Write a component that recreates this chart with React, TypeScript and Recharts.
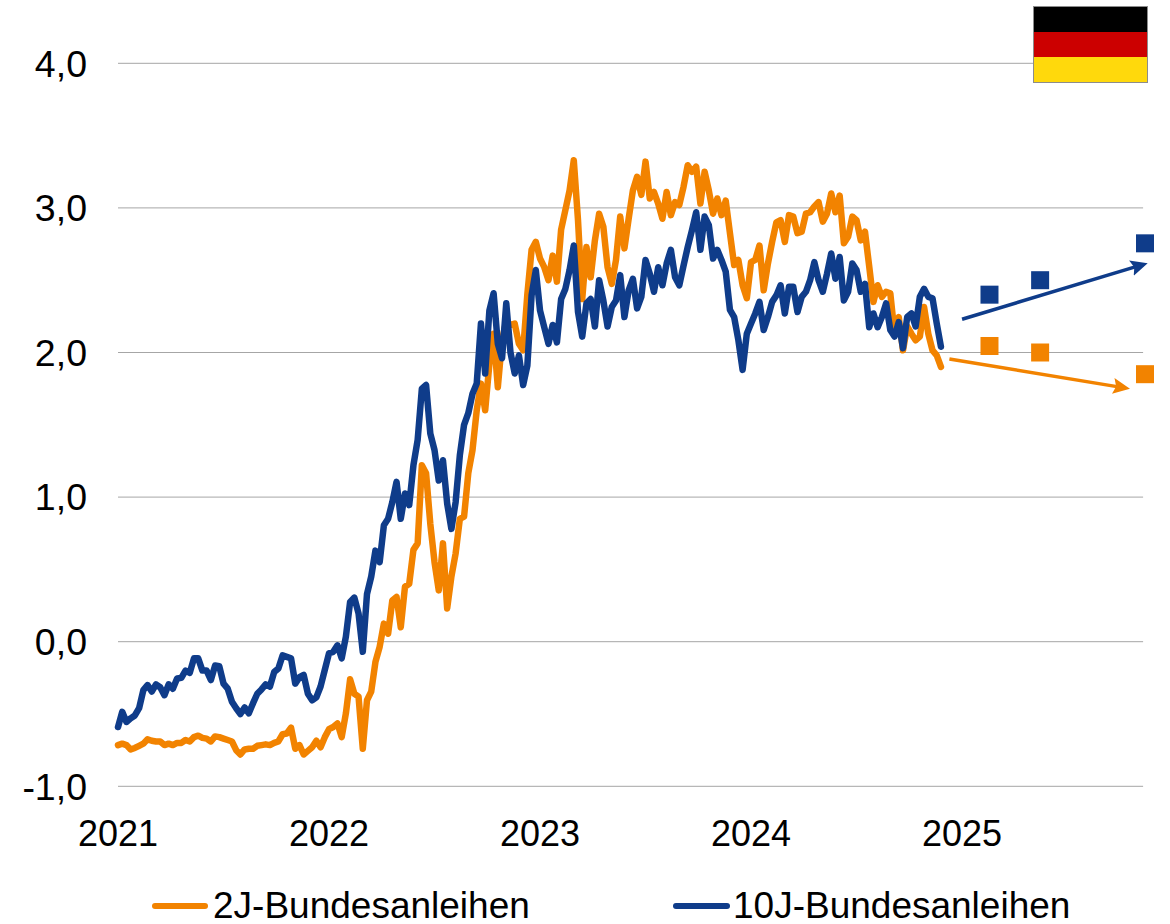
import React from 'react';
import { ComposedChart, Line, Scatter, XAxis, YAxis, ReferenceLine, Legend } from 'recharts';

const START_YEAR = 2021;
const STEP = 0.02;
const yearTicks = [2021, 2022, 2023, 2024, 2025];
const valueTicks = [-1, 0, 1, 2, 3, 4];
const seriesNames = ['2J-Bundesanleihen', '10J-Bundesanleihen'];
const ORANGE = '#F28300';
const BLUE = '#0F3C8A';

const twoYear = [
  -0.715,-0.705,-0.715,-0.745,-0.735,-0.72,-0.705,-0.675,-0.685,-0.69,
  -0.69,-0.715,-0.705,-0.715,-0.70,-0.70,-0.68,-0.69,-0.66,-0.65,
  -0.665,-0.67,-0.69,-0.655,-0.66,-0.67,-0.68,-0.69,-0.75,-0.78,
  -0.745,-0.74,-0.74,-0.72,-0.715,-0.71,-0.715,-0.70,-0.69,-0.64,
  -0.635,-0.595,-0.74,-0.715,-0.78,-0.755,-0.73,-0.685,-0.73,-0.66,
  -0.605,-0.59,-0.565,-0.66,-0.495,-0.26,-0.36,-0.38,-0.74,-0.405,
  -0.345,-0.14,-0.035,0.125,0.055,0.285,0.31,0.1,0.38,0.40,
  0.635,0.68,1.22,1.165,0.815,0.55,0.355,0.68,0.23,0.45,
  0.61,0.85,0.865,1.165,1.325,1.60,1.785,1.6,1.92,2.13,
  1.76,2.085,2.22,2.19,2.20,2.06,2.015,2.405,2.71,2.765,
  2.65,2.59,2.50,2.67,2.49,2.85,2.985,3.12,3.33,2.915,
  2.37,2.73,2.52,2.775,2.96,2.87,2.59,2.475,2.64,2.94,
  2.72,2.925,3.12,3.215,3.09,3.32,3.065,3.11,3.03,2.925,
  3.11,2.95,3.04,3.02,3.145,3.295,3.25,3.285,3.03,3.25,
  3.12,2.96,3.065,2.95,3.05,2.825,2.605,2.64,2.465,2.375,
  2.625,2.64,2.74,2.43,2.615,2.765,2.90,2.915,2.765,2.95,
  2.94,2.825,2.835,2.96,2.97,3.01,3.04,2.905,2.96,3.10,
  2.97,3.085,2.755,2.80,2.94,2.915,2.775,2.835,2.595,2.35,
  2.465,2.385,2.42,2.41,2.13,2.245,2.015,2.18,2.13,2.085,
  2.11,2.315,2.13,2.015,1.98,1.90,
];

const tenYear = [
  -0.59,-0.485,-0.555,-0.53,-0.51,-0.46,-0.335,-0.30,-0.345,-0.295,
  -0.315,-0.37,-0.295,-0.325,-0.255,-0.25,-0.20,-0.215,-0.115,-0.115,
  -0.20,-0.20,-0.265,-0.165,-0.17,-0.29,-0.325,-0.415,-0.46,-0.50,
  -0.455,-0.495,-0.425,-0.36,-0.33,-0.295,-0.31,-0.21,-0.185,-0.095,
  -0.105,-0.115,-0.29,-0.245,-0.23,-0.36,-0.405,-0.385,-0.31,-0.195,
  -0.08,-0.07,-0.025,-0.115,0.035,0.275,0.305,0.195,-0.07,0.33,
  0.45,0.63,0.55,0.805,0.85,0.965,1.105,0.85,1.025,0.945,
  1.22,1.395,1.75,1.775,1.44,1.325,1.115,1.255,0.955,0.78,
  0.965,1.29,1.50,1.58,1.715,1.785,2.20,1.855,2.29,2.41,
  2.06,1.96,2.34,2.0,1.855,1.98,1.775,1.91,2.395,2.57,
  2.29,2.175,2.06,2.19,2.07,2.37,2.44,2.57,2.74,2.28,
  2.11,2.34,2.37,2.18,2.50,2.36,2.18,2.315,2.36,2.535,
  2.245,2.43,2.51,2.305,2.385,2.64,2.545,2.42,2.59,2.465,
  2.615,2.71,2.52,2.465,2.60,2.73,2.845,2.97,2.71,2.94,
  2.88,2.65,2.71,2.64,2.56,2.295,2.245,2.085,1.88,2.13,
  2.20,2.27,2.35,2.155,2.245,2.35,2.395,2.465,2.27,2.455,
  2.455,2.28,2.385,2.42,2.50,2.625,2.50,2.42,2.545,2.685,
  2.51,2.66,2.36,2.42,2.615,2.57,2.42,2.475,2.175,2.27,
  2.175,2.245,2.34,2.155,2.11,2.21,2.03,2.245,2.27,2.18,
  2.385,2.44,2.385,2.375,2.20,2.04,
];

const forecastDates = [2025.13, 2025.37, 2025.867];
const forecastTwoYear = [2.045, 2.0, 1.85];
const forecastTenYear = [2.4, 2.5, 2.755];
const arrowTwoYearDates = [2024.94, 2025.763];
const arrowTwoYearValues = [1.955, 1.757];
const arrowTenYearDates = [2025.0, 2025.848];
const arrowTenYearValues = [2.23, 2.604];
const GRID_END = 2025.858;

const history = twoYear.map((v, i) => ({ t: START_YEAR + i * STEP, a: v, b: tenYear[i] }));
const pairs = (xs: number[], ys: number[]) => xs.map((t, i) => ({ t, v: ys[i] }));

const Square = (color: string) => (props: any) => (
  <rect x={props.cx - 9} y={props.cy - 9} width={18} height={18} fill={color} />
);

const FONT = '"Liberation Sans", Arial, sans-serif';

const LegendContent = () => (
  <div style={{ position: 'relative', width: 1170, height: 36, fontFamily: FONT, fontSize: 37, color: '#000' }}>
    {[{ x: 152, w: 56, tx: 213, c: ORANGE, n: seriesNames[0] }, { x: 673, w: 57, tx: 733, c: BLUE, n: seriesNames[1] }].map((e) => (
      <React.Fragment key={e.n}>
        <div style={{ position: 'absolute', left: e.x, top: 15, width: e.w, height: 6, borderRadius: 3, background: e.c }} />
        <div style={{ position: 'absolute', left: e.tx, top: 0, lineHeight: '36px', whiteSpace: 'nowrap' }}>{e.n}</div>
      </React.Fragment>
    ))}
  </div>
);

export default function App() {
  return (
    <div style={{ position: 'absolute', left: 0, top: 0, width: 1170, height: 924, overflow: 'hidden', background: '#fff' }}>
      <ComposedChart
        width={1170}
        height={924}
        data={history}
        margin={{ top: 63.3, right: 25, bottom: 41.7, left: 0 }}
      >
        <defs>
          <marker id="arrowBlue" markerUnits="userSpaceOnUse" markerWidth="18" markerHeight="18" refX="10" refY="8" orient="auto">
            <path d="M0,0 L17,8 L0,16 L3,8 Z" fill={BLUE} />
          </marker>
          <marker id="arrowOrange" markerUnits="userSpaceOnUse" markerWidth="18" markerHeight="18" refX="10" refY="8" orient="auto">
            <path d="M0,0 L17,8 L0,16 L3,8 Z" fill={ORANGE} />
          </marker>
        </defs>
        <XAxis
          dataKey="t"
          type="number"
          domain={[2021, 2025.867]}
          ticks={yearTicks}
          tickFormatter={(v: number) => String(v)}
          tickLine={false}
          axisLine={false}
          height={60}
          tickMargin={28}
          interval={0}
          tick={{ fontFamily: FONT, fontSize: 36, fill: '#000' }}
        />
        <YAxis
          type="number"
          domain={[-1, 4]}
          ticks={valueTicks}
          width={118}
          tickLine={false}
          axisLine={false}
          tickMargin={25}
          interval={0}
          tickFormatter={(v: number) => v.toFixed(1).replace('.', ',')}
          tick={{ fontFamily: FONT, fontSize: 37.5, fill: '#000' }}
        />
        {valueTicks.map((v) => (
          <ReferenceLine
            key={v}
            segment={[{ x: 2021, y: v }, { x: GRID_END, y: v }]}
            stroke="#A6A6A6"
            strokeWidth={1}
          />
        ))}
        <Line dataKey="a" name={seriesNames[0]} stroke={ORANGE} strokeWidth={6.5} strokeLinejoin="round" strokeLinecap="round" dot={false} type="linear" isAnimationActive={false} legendType="none" />
        <Line dataKey="b" name={seriesNames[1]} stroke={BLUE} strokeWidth={6.5} strokeLinejoin="round" strokeLinecap="round" dot={false} type="linear" isAnimationActive={false} legendType="none" />
        <Line data={pairs(arrowTwoYearDates, arrowTwoYearValues)} dataKey="v" stroke={ORANGE} strokeWidth={3.5} dot={false} type="linear" isAnimationActive={false} legendType="none" markerEnd="url(#arrowOrange)" />
        <Line data={pairs(arrowTenYearDates, arrowTenYearValues)} dataKey="v" stroke={BLUE} strokeWidth={3.5} dot={false} type="linear" isAnimationActive={false} legendType="none" markerEnd="url(#arrowBlue)" />
        <Scatter data={pairs(forecastDates, forecastTwoYear)} dataKey="v" shape={Square(ORANGE)} isAnimationActive={false} legendType="none" />
        <Scatter data={pairs(forecastDates, forecastTenYear)} dataKey="v" shape={Square(BLUE)} isAnimationActive={false} legendType="none" />
        <Legend content={<LegendContent />} wrapperStyle={{ position: 'absolute', left: 0, top: 888, width: 1170, bottom: 'auto' }} />
      </ComposedChart>
      <div style={{ position: 'absolute', left: 1033, top: 6, width: 113, height: 75, border: '1px solid #8c8c8c' }}>
        <div style={{ height: 25, background: '#000000' }} />
        <div style={{ height: 25, background: '#CC0000' }} />
        <div style={{ height: 25, background: '#FFD90C' }} />
      </div>
    </div>
  );
}
